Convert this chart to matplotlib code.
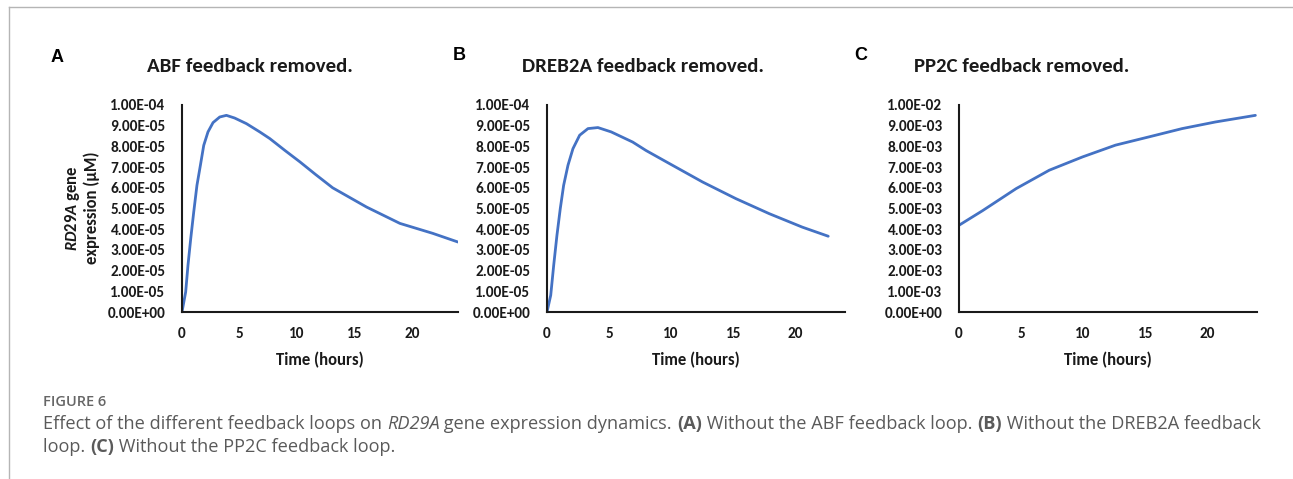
import matplotlib
matplotlib.use("Agg")
from matplotlib import pyplot as plt
from matplotlib.ticker import FuncFormatter, MultipleLocator
from matplotlib.lines import Line2D

#--- Fonts (Carlito is metric compatible with Calibri used in the Excel charts)
plt.rcParams['font.family'] = ['Carlito', 'DejaVu Sans']
plt.rcParams['mathtext.fontset'] = 'custom'
plt.rcParams['mathtext.rm'] = 'Carlito:bold'
plt.rcParams['mathtext.it'] = 'Carlito:italic:bold'
plt.rcParams['mathtext.bf'] = 'Carlito:bold'

#--- Data (time in hours, RD29A in uM)
abf_time = [0, 0.32, 0.52, 0.76, 1.02, 1.30, 1.6, 1.89, 2.26, 2.7, 3.28, 3.86,
            4.58, 5.6, 6.76, 7.63, 8.96, 10.26, 11.6, 13.1, 16.05, 18.95, 21.8, 24.0]
abf_rd29a = [0, 0.097e-4, 0.226e-4, 0.355e-4, 0.483e-4, 0.612e-4, 0.709e-4, 0.805e-4,
             0.87e-4, 0.915e-4, 0.942e-4, 0.95e-4, 0.937e-4, 0.91e-4, 0.87e-4,
             0.838e-4, 0.78e-4, 0.725e-4, 0.665e-4, 0.60e-4, 0.507e-4, 0.428e-4,
             0.38e-4, 0.338e-4]

dreb_time = [0, 0.3, 0.54, 0.8, 1.07, 1.34, 1.69, 2.09, 2.63, 3.3, 4.1, 5.17, 6.9,
             7.98, 9.86, 12.53, 15.2, 17.9, 20.56, 22.65]
dreb_rd29a = [0, 0.081e-4, 0.226e-4, 0.37e-4, 0.50e-4, 0.612e-4, 0.709e-4, 0.789e-4,
              0.854e-4, 0.886e-4, 0.891e-4, 0.87e-4, 0.821e-4, 0.78e-4, 0.717e-4,
              0.628e-4, 0.548e-4, 0.475e-4, 0.41e-4, 0.366e-4]

pp2c_time = [0, 1.91, 4.6, 7.27, 9.94, 12.6, 15.3, 17.97, 20.65, 23.87]
pp2c_rd29a = [0.419e-2, 0.49e-2, 0.596e-2, 0.685e-2, 0.749e-2, 0.806e-2, 0.846e-2,
              0.886e-2, 0.918e-2, 0.95e-2]

panel_letters = ["A", "B", "C"]
panel_titles = ["ABF feedback removed.", "DREB2A feedback removed.", "PP2C feedback removed."]
y_max = [1e-4, 1e-4, 1e-2]
x_ticks = [0, 5, 10, 15, 20]

W, H = 1293, 479
fig = plt.figure(figsize=(W / 100, H / 100), dpi=100)

def fx(px):
    return px / W

def fy(py):
    return 1 - py / H

#--- Axes positions in pixels (left, right)
axes_px = [(182, 458), (547, 845), (959, 1257)]
letter_px = [(57, 57), (459, 55), (861, 55)]
title_px = [250, 643, 1022]
series = [(abf_time, abf_rd29a), (dreb_time, dreb_rd29a), (pp2c_time, pp2c_rd29a)]
ink = "#1a1a1a"

for i in range(3):
    left, right = axes_px[i]
    ax = fig.add_axes([fx(left), fy(312), fx(right - left), fy(105) - fy(312)])
    t, v = series[i]
    ax.plot(t, v, color="#4472C4", lw=2.0, solid_capstyle="round", solid_joinstyle="round")
    ax.set_xlim(0, 24)
    ax.set_ylim(0, y_max[i])
    ax.set_xticks(x_ticks)
    ax.yaxis.set_major_locator(MultipleLocator(y_max[i] / 10))
    ax.yaxis.set_major_formatter(FuncFormatter(lambda val, pos: f"{val:.2E}"))
    for side in ["top", "right"]:
        ax.spines[side].set_visible(False)
    for side in ["left", "bottom"]:
        ax.spines[side].set_linewidth(1.5)
        ax.spines[side].set_color(ink)
    ax.tick_params(axis="both", length=0, labelsize=11, colors=ink)
    ax.tick_params(axis="y", pad=12)
    ax.tick_params(axis="x", pad=11)
    for lab in ax.get_xticklabels() + ax.get_yticklabels():
        lab.set_fontweight("bold")
    ax.set_xlabel("Time (hours)", fontsize=12, fontweight="bold", labelpad=8, color=ink)

    #--- Panel letter and title
    fig.text(fx(letter_px[i][0]), fy(letter_px[i][1]), panel_letters[i], fontsize=13,
             fontweight="bold", family=["Liberation Sans"], ha="center", va="center")
    fig.text(fx(title_px[i]), fy(67), panel_titles[i], fontsize=15, fontweight="bold",
             ha="center", va="center", color=ink)

#--- Y label of panel A
fig.text(fx(73), fy(208), r"$\mathit{RD29A}$ gene", rotation=90, fontsize=12,
         fontweight="bold", ha="center", va="center", color=ink)
fig.text(fx(92), fy(208), "expression (\u00b5M)", rotation=90, fontsize=12,
         fontweight="bold", ha="center", va="center", color=ink)

#--- Frame lines
fig.add_artist(Line2D([fx(9), 1], [fy(7), fy(7)], color="#b5b5b5", lw=1))
fig.add_artist(Line2D([fx(9), fx(9)], [fy(7), 0], color="#b5b5b5", lw=1))

#--- Caption
cap_color = "#5a5a5a"
fig.text(fx(43), fy(402), "FIGURE 6", fontsize=10.5, fontweight="semibold", family=["Open Sans"],
         color="#666666", va="center")

renderer = fig.canvas.get_renderer()

def draw_runs(x_px, y_px, parts):
    x = x_px
    for txt, style, weight in parts:
        t = fig.text(fx(x), fy(y_px), txt, fontsize=13.05, family=["Open Sans"], style=style,
                     fontweight=weight, color=cap_color, va="center")
        x += t.get_window_extent(renderer).width

line1 = [("Effect of the different feedback loops on ", "normal", "normal"),
         ("RD29A", "italic", "normal"),
         (" gene expression dynamics. ", "normal", "normal"),
         ("(A)", "normal", "bold"),
         (" Without the ABF feedback loop. ", "normal", "normal"),
         ("(B)", "normal", "bold"),
         (" Without the DREB2A feedback", "normal", "normal")]
line2 = [("loop. ", "normal", "normal"),
         ("(C)", "normal", "bold"),
         (" Without the PP2C feedback loop.", "normal", "normal")]
draw_runs(43, 424, line1)
draw_runs(43, 447, line2)

fig.savefig("out.png", dpi=100)
